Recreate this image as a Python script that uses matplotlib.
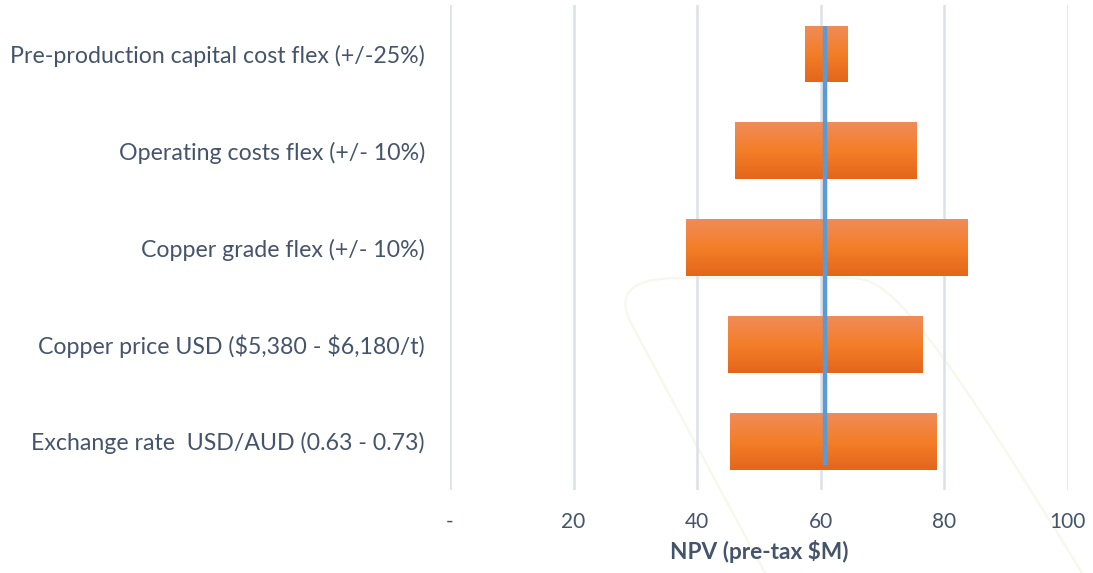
import numpy as np
import matplotlib
matplotlib.use("Agg")
import matplotlib.pyplot as plt
from matplotlib.colors import LinearSegmentedColormap
from matplotlib.path import Path
from matplotlib.patches import PathPatch

categories = [
    "Exchange rate  USD/AUD (0.63 - 0.73)",
    "Copper price USD (\\$5,380 - \\$6,180/t)",
    "Copper grade flex (+/- 10%)",
    "Operating costs flex (+/- 10%)",
    "Pre-production capital cost flex (+/-25%)",
]
low_values = [45.3, 45.0, 38.2, 46.1, 57.4]
high_values = [78.8, 76.4, 83.7, 75.4, 64.2]
base_npv = 60.7
x_ticks = [0, 20, 40, 60, 80, 100]
x_tick_labels = ["-", "20", "40", "60", "80", "100"]

plt.rcParams['font.family'] = ['Lato', 'DejaVu Sans']
text_color = "#44546A"

W, H = 1093, 573
fig = plt.figure(figsize=(W / 100, H / 100), dpi=100)

# faint watermark arc in the background
def P(x, y):
    return (x / W, 1 - y / H)
verts = [P(765, 573), P(632, 325), P(612, 288), P(640, 278), P(680, 278),
         P(850, 278), P(885, 278), P(915, 300), P(1082, 573)]
codes = [Path.MOVETO, Path.LINETO, Path.CURVE4, Path.CURVE4, Path.CURVE4,
         Path.LINETO, Path.CURVE4, Path.CURVE4, Path.CURVE4]
fig.add_artist(PathPatch(Path(verts, codes), transform=fig.transFigure,
                         fill=False, edgecolor="#F5F8EA", lw=1.6, zorder=0))

ax = fig.add_axes([0.4117, 0.145, 0.5653, 0.846])
ax.patch.set_alpha(0)

y = np.arange(len(categories))
bar_h = 0.58
cmap = LinearSegmentedColormap.from_list("og", ["#E3661B", "#F47E28", "#F08C58"])
grad = np.linspace(0, 1, 256).reshape(-1, 1)
for yi, lo, hi in zip(y, low_values, high_values):
    b = ax.barh(yi, hi - lo, left=lo, height=bar_h, color="#F47E28", zorder=2)[0]
    im = ax.imshow(grad, cmap=cmap, aspect="auto", origin="lower",
                   extent=[lo, hi, yi - bar_h / 2, yi + bar_h / 2], zorder=3)
    im.set_clip_path(b)

ax.plot([base_npv, base_npv], [-0.24, len(categories) - 1 + bar_h / 2],
        color="#5B9BD5", lw=3.2, zorder=4, solid_capstyle="butt")

ax.set_xlim(0, 100)
ax.set_ylim(-0.5, len(categories) - 0.5)
ax.set_xticks(x_ticks)
ax.set_xticklabels(x_tick_labels)
ax.set_yticks(y)
ax.set_yticklabels(categories)
ax.grid(axis="x", color="#DCE1E8", lw=1.8, zorder=0)
ax.set_axisbelow(True)
for s in ax.spines.values():
    s.set_visible(False)
ax.tick_params(axis="both", length=0, colors=text_color)
ax.tick_params(axis="x", labelsize=15, pad=16)
ax.tick_params(axis="y", labelsize=16.7, pad=18)
ax.set_xlabel("NPV (pre-tax \\$M)", fontsize=16.3, fontweight="bold",
              color=text_color, labelpad=6)

fig.savefig("out.png", dpi=100)
